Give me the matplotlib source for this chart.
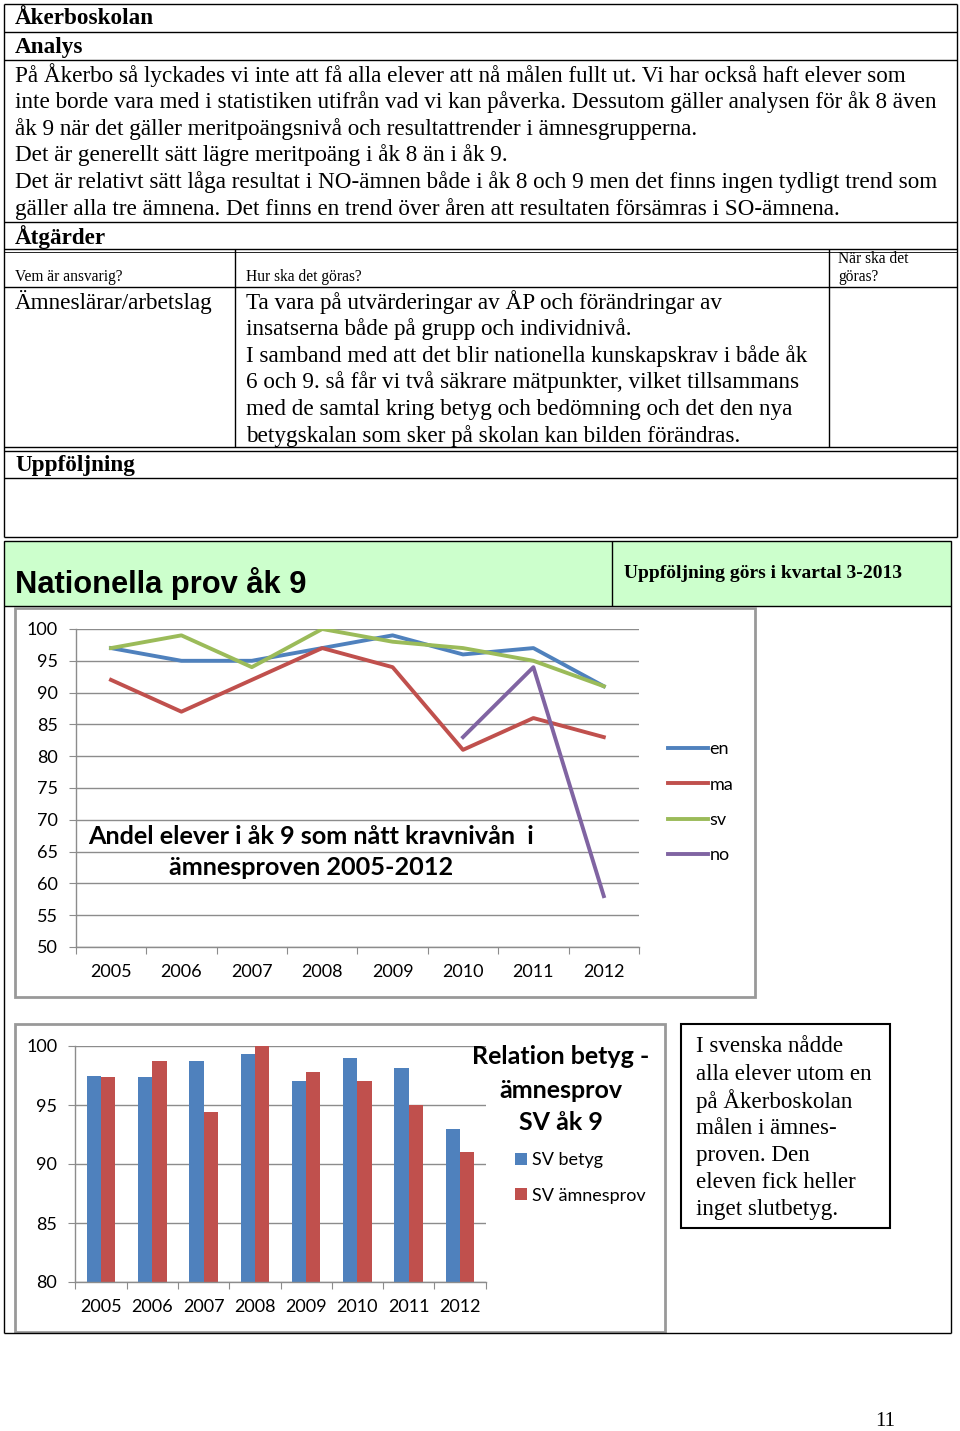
import numpy as np
import matplotlib.pyplot as plt
from matplotlib.patches import Rectangle

W, H = 960, 1431

# data from the two charts
years = ["2005", "2006", "2007", "2008", "2009", "2010", "2011", "2012"]
en = [97, 95, 95, 97, 99, 96, 97, 91]
ma = [92, 87, 92, 97, 94, 81, 86, 83]
sv = [97, 99, 94, 100, 98, 97, 95, 91]
no = [np.nan, np.nan, np.nan, np.nan, np.nan, 83, 94, 58]

sv_betyg = [97.5, 97.4, 98.7, 99.3, 97.0, 99.0, 98.1, 93.0]
sv_amnesprov = [97.4, 98.7, 94.4, 100.0, 97.8, 97.0, 95.0, 91.0]

# document text
analys_lines = [
    "På Åkerbo så lyckades vi inte att få alla elever att nå målen fullt ut. Vi har också haft elever som",
    "inte borde vara med i statistiken utifrån vad vi kan påverka. Dessutom gäller analysen för åk 8 även",
    "åk 9 när det gäller meritpoängsnivå och resultattrender i ämnesgrupperna.",
    "Det är generellt sätt lägre meritpoäng i åk 8 än i åk 9.",
    "Det är relativt sätt låga resultat i NO-ämnen både i åk 8 och 9 men det finns ingen tydligt trend som",
    "gäller alla tre ämnena. Det finns en trend över åren att resultaten försämras i SO-ämnena.",
]
hur_lines = [
    "Ta vara på utvärderingar av ÅP och förändringar av",
    "insatserna både på grupp och individnivå.",
    "I samband med att det blir nationella kunskapskrav i både åk",
    "6 och 9. så får vi två säkrare mätpunkter, vilket tillsammans",
    "med de samtal kring betyg och bedömning och det den nya",
    "betygskalan som sker på skolan kan bilden förändras.",
]
box_lines = [
    "I svenska nådde",
    "alla elever utom en",
    "på Åkerboskolan",
    "målen i ämnes-",
    "proven. Den",
    "eleven fick heller",
    "inget slutbetyg.",
]

SERIF = "Liberation Serif"
SANS = "Liberation Sans"
CAL = "Lato"


def frac(x0, y0, x1, y1):
    return [x0 / W, 1 - y1 / H, (x1 - x0) / W, (y1 - y0) / H]


fig = plt.figure(figsize=(W / 100, H / 100), dpi=100)
bg = fig.add_axes([0, 0, 1, 1])
bg.set_xlim(0, W)
bg.set_ylim(H, 0)
bg.axis("off")


def hline(y, x0, x1, lw=1.0, c="black"):
    bg.plot([x0, x1], [y, y], color=c, lw=lw, solid_capstyle="butt")


def vline(x, y0, y1, lw=1.0, c="black"):
    bg.plot([x, x], [y0, y1], color=c, lw=lw, solid_capstyle="butt")


def ftext(x, y, s, **kw):
    # text on top of every axes, placed in page pixels
    fig.text(x / W, 1 - y / H, s, **kw)


# table outline
for y in [4, 32, 60, 222, 249, 287, 478, 537]:
    hline(y, 4, 957)
hline(447, 4, 957)
hline(451, 4, 957)
hline(252, 4, 957, lw=0.6)
vline(4, 4, 537)
vline(957, 4, 537)
vline(235, 249, 447)
vline(829, 249, 447)

BODY = 16.7
bg.text(15, 19, "Åkerboskolan", family=SERIF, weight="bold", fontsize=BODY, va="center")
bg.text(15, 47, "Analys", family=SERIF, weight="bold", fontsize=BODY, va="center")
for i, s in enumerate(analys_lines):
    bg.text(15, 75 + i * 26.8, s, family=SERIF, fontsize=BODY, va="center")
bg.text(15, 237, "Åtgärder", family=SERIF, weight="bold", fontsize=BODY, va="center")
bg.text(15, 277, "Vem är ansvarig?", family=SERIF, fontsize=11.2, va="center")
bg.text(246, 277, "Hur ska det göras?", family=SERIF, fontsize=11.2, va="center")
bg.text(838, 259, "När ska det", family=SERIF, fontsize=11.2, va="center")
bg.text(838, 277, "göras?", family=SERIF, fontsize=11.2, va="center")
bg.text(15, 302, "Ämneslärar/arbetslag", family=SERIF, fontsize=BODY, va="center")
for i, s in enumerate(hur_lines):
    bg.text(246, 302 + i * 26.8, s, family=SERIF, fontsize=BODY, va="center")
bg.text(15, 466, "Uppföljning", family=SERIF, weight="bold", fontsize=BODY, va="center")

# green header
bg.add_patch(Rectangle((4, 541), 947, 65, facecolor="#CCFFCC", edgecolor="black", lw=1.0))
vline(612, 541, 606)
bg.text(15, 583, "Nationella prov åk 9", family=SANS, weight="bold", fontsize=22.2, va="center")
bg.text(624, 574, "Uppföljning görs i kvartal 3-2013", family=SERIF, weight="bold",
        fontsize=14, va="center")
vline(4, 606, 1333)
vline(951, 606, 1333)
hline(1333, 4, 951)

# picture frames
bg.add_patch(Rectangle((15, 608), 740, 389, facecolor="white", edgecolor="#999999", lw=2))
bg.add_patch(Rectangle((15, 1024), 650, 308, facecolor="white", edgecolor="#999999", lw=2))
bg.add_patch(Rectangle((681, 1024), 209, 204, facecolor="white", edgecolor="black", lw=1.5))
for i, s in enumerate(box_lines):
    bg.text(696, 1047 + i * 27, s, family=SERIF, fontsize=16.6, va="center")

bg.text(885, 1421, "11", family=SERIF, fontsize=15, va="center", ha="center")

GRID = "#8c8c8c"
TICK = 13


def style_axis(ax, n):
    ax.set_xlim(-0.5, n - 0.5)
    ax.set_xticks(np.arange(-0.5, n), minor=False)
    ax.set_xticklabels([])
    ax.set_xticks(np.arange(n), minor=True)
    ax.set_xticklabels(years, minor=True, family=CAL, fontsize=TICK)
    ax.tick_params(axis="x", which="major", length=5, color=GRID, direction="out")
    ax.tick_params(axis="x", which="minor", length=0, pad=12)
    ax.tick_params(axis="y", length=5, color=GRID, direction="out", pad=8)
    for lab in ax.get_yticklabels():
        lab.set_family(CAL)
        lab.set_fontsize(TICK)
    ax.yaxis.grid(True, color=GRID, lw=1.0)
    ax.set_axisbelow(True)
    for sp in ["top", "right"]:
        ax.spines[sp].set_visible(False)
    for sp in ["left", "bottom"]:
        ax.spines[sp].set_color(GRID)
        ax.spines[sp].set_linewidth(1.0)


# line chart
ax1 = fig.add_axes(frac(75.8, 629, 639, 947))
x = np.arange(len(years))
LW = 2.8
ax1.plot(x, en, color="#4F81BD", lw=LW, label="en")
ax1.plot(x, ma, color="#C0504D", lw=LW, label="ma")
ax1.plot(x, sv, color="#9BBB59", lw=LW, label="sv")
ax1.plot(x, no, color="#8064A2", lw=LW, label="no")
ax1.set_ylim(50, 100)
ax1.set_yticks(np.arange(50, 101, 5))
style_axis(ax1, len(years))
ax1.legend(loc="upper left", bbox_to_anchor=(668 / W, 1 - 741 / H), bbox_transform=fig.transFigure,
           frameon=False, prop={"family": CAL, "size": 13}, handlelength=2.2,
           handletextpad=0.1, labelspacing=1.08, borderpad=0, borderaxespad=0)
ftext(88, 836, "Andel elever i åk 9 som nått kravnivån  i", family=CAL, weight="bold",
      fontsize=18.2, va="center")
ftext(311, 868, "ämnesproven 2005-2012", family=CAL, weight="bold", fontsize=18.2,
      va="center", ha="center")

# bar chart
ax2 = fig.add_axes(frac(75.4, 1046, 485.6, 1282))
bw = 0.28
ax2.bar(x - bw / 2, sv_betyg, width=bw, color="#4F81BD", label="SV betyg")
ax2.bar(x + bw / 2, sv_amnesprov, width=bw, color="#C0504D", label="SV ämnesprov")
ax2.set_ylim(80, 100)
ax2.set_yticks(np.arange(80, 101, 5))
style_axis(ax2, len(years))
ax2.legend(loc="upper left", bbox_to_anchor=(515 / W, 1 - 1152 / H), bbox_transform=fig.transFigure,
           frameon=False, prop={"family": CAL, "size": 13}, handlelength=0.65, handleheight=0.65,
           handletextpad=0.3, labelspacing=1.08, borderpad=0, borderaxespad=0)
for i, s in enumerate(["Relation betyg -", "ämnesprov", "SV åk 9"]):
    ftext(561, 1057 + i * 33, s, family=CAL, weight="bold", fontsize=18,
          va="center", ha="center")

fig.savefig("out.png", dpi=100, facecolor="white")
